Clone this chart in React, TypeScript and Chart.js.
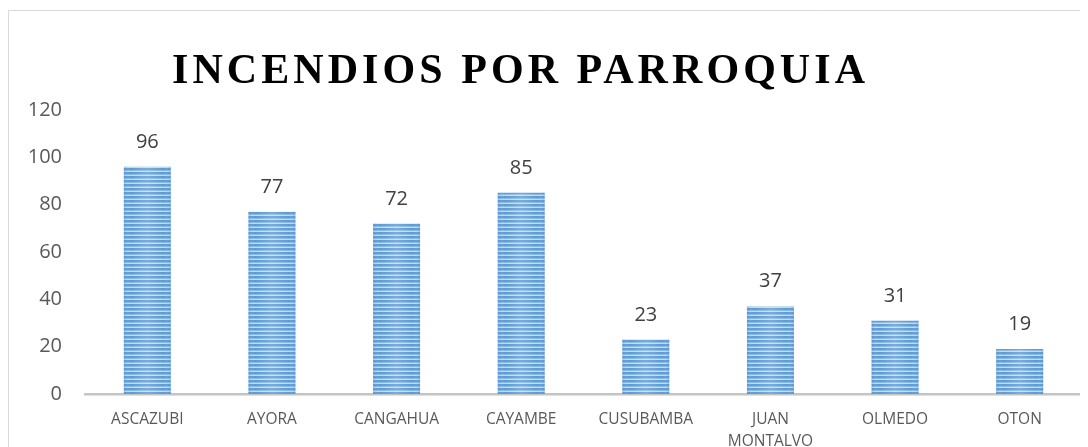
import React, { useEffect, useRef } from "react";
import { Chart, registerables } from "chart.js";

Chart.register(...registerables);

const titleText = "INCENDIOS POR PARROQUIA";
const categories: (string | string[])[] = [
  "ASCAZUBI",
  "AYORA",
  "CANGAHUA",
  "CAYAMBE",
  "CUSUBAMBA",
  ["JUAN", "MONTALVO"],
  "OLMEDO",
  "OTON",
];
const values = [96, 77, 72, 85, 23, 37, 31, 19];
const yMin = 0;
const yMax = 120;
const yStep = 20;

function makeStripePattern(ctx: CanvasRenderingContext2D): CanvasPattern | string {
  const c = document.createElement("canvas");
  c.width = 4;
  c.height = 4;
  const p = c.getContext("2d");
  if (!p) return "#5b9bd5";
  p.fillStyle = "#c4daf0";
  p.fillRect(0, 0, 4, 4);
  p.fillStyle = "#5b9bd5";
  p.fillRect(0, 0, 4, 2);
  p.fillStyle = "#8ab8e3";
  p.fillRect(0, 2, 4, 1);
  const pat = ctx.createPattern(c, "repeat");
  return pat || "#5b9bd5";
}

const framePlugin = {
  id: "frame",
  beforeDraw(chart: any) {
    const ctx = chart.ctx as CanvasRenderingContext2D;
    ctx.save();
    ctx.strokeStyle = "#d9d9d9";
    ctx.lineWidth = 1;
    ctx.beginPath();
    ctx.moveTo(0.5, chart.height);
    ctx.lineTo(0.5, 2.5);
    ctx.lineTo(chart.width, 2.5);
    ctx.stroke();
    ctx.restore();
  },
};

const titlePlugin = {
  id: "bigTitle",
  afterDraw(chart: any) {
    const ctx = chart.ctx as any;
    ctx.save();
    ctx.font = "bold 42px 'Liberation Serif', 'Times New Roman', serif";
    ctx.fillStyle = "#000000";
    ctx.textBaseline = "alphabetic";
    const targetWidth = 693;
    ctx.letterSpacing = "0px";
    const w = ctx.measureText(titleText).width;
    const ls = (targetWidth - w) / (titleText.length - 1);
    ctx.letterSpacing = ls + "px";
    ctx.textAlign = "left";
    const cx = 510.5;
    ctx.fillText(titleText, cx - targetWidth / 2, 75);
    ctx.restore();
  },
};

const barShadePlugin = {
  id: "barShade",
  afterDatasetsDraw(chart: any) {
    const ctx = chart.ctx as CanvasRenderingContext2D;
    const meta = chart.getDatasetMeta(0);
    ctx.save();
    meta.data.forEach((bar: any) => {
      const half = bar.width / 2;
      const left = bar.x - half;
      const g = ctx.createLinearGradient(left, 0, left + bar.width, 0);
      g.addColorStop(0, "rgba(70,130,200,0.25)");
      g.addColorStop(0.15, "rgba(255,255,255,0)");
      g.addColorStop(0.5, "rgba(255,255,255,0.18)");
      g.addColorStop(0.85, "rgba(255,255,255,0)");
      g.addColorStop(1, "rgba(70,130,200,0.25)");
      ctx.fillStyle = g;
      ctx.fillRect(left, bar.y, bar.width, bar.base - bar.y);
    });
    ctx.restore();
  },
};

const valueLabelPlugin = {
  id: "valueLabels",
  afterDatasetsDraw(chart: any) {
    const ctx = chart.ctx as CanvasRenderingContext2D;
    const meta = chart.getDatasetMeta(0);
    ctx.save();
    ctx.font = "20px 'Open Sans', sans-serif";
    ctx.fillStyle = "#404040";
    ctx.textAlign = "center";
    ctx.textBaseline = "alphabetic";
    meta.data.forEach((bar: any, i: number) => {
      ctx.fillText(String(values[i]), bar.x, bar.y - 19);
    });
    ctx.restore();
  },
};

export default function App() {
  const canvasRef = useRef<HTMLCanvasElement | null>(null);

  useEffect(() => {
    document.documentElement.style.overflow = "hidden";
    document.body.style.overflow = "hidden";
    const canvas = canvasRef.current;
    if (!canvas) return;
    const ctx = canvas.getContext("2d");
    if (!ctx) return;
    const pattern = makeStripePattern(ctx);

    const chart = new Chart(ctx, {
      type: "bar",
      data: {
        labels: categories,
        datasets: [
          {
            data: values,
            backgroundColor: pattern as any,
            borderWidth: 0,
            barPercentage: 0.377,
            categoryPercentage: 1,
          },
        ],
      },
      options: {
        animation: false,
        responsive: true,
        maintainAspectRatio: false,
        layout: { padding: { top: 102, right: 6, left: 0, bottom: 0 } },
        plugins: {
          legend: { display: false },
          title: { display: false },
          tooltip: { enabled: false },
        },
        scales: {
          x: {
            grid: { display: false, drawTicks: false },
            border: { display: true, color: "#c4c4c4", width: 2.5 },
            ticks: {
              color: "#595959",
              font: { family: "'Open Sans', sans-serif", size: 15.5, lineHeight: 1.45 },
              padding: 14,
              maxRotation: 0,
              autoSkip: false,
            },
            afterFit(scale: any) {
              scale.height = 53;
            },
          },
          y: {
            min: yMin,
            max: yMax,
            grid: { display: false, drawTicks: false },
            border: { display: false },
            ticks: {
              stepSize: yStep,
              color: "#595959",
              font: { family: "'Open Sans', sans-serif", size: 20 },
              padding: 23,
            },
            afterFit(scale: any) {
              scale.width = 77;
            },
          },
        },
      },
      plugins: [framePlugin, titlePlugin, barShadePlugin, valueLabelPlugin],
    });

    return () => {
      chart.destroy();
    };
  }, []);

  return (
    <div style={{ position: "relative", width: "1080px", height: "439px" }}>
      <canvas ref={canvasRef} style={{ display: "block" }} />
    </div>
  );
}
